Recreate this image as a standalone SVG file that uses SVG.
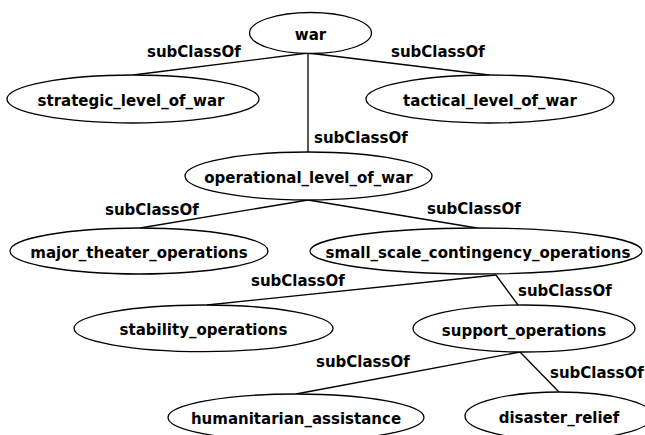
<svg xmlns="http://www.w3.org/2000/svg" width="645" height="435" viewBox="0 0 645 435">
<style>
text{font-family:"DejaVu Sans","Liberation Sans",sans-serif;font-weight:bold;font-size:15px;fill:#000}
.n text{text-anchor:middle}
.n ellipse{fill:#fff;stroke:#000;stroke-width:1.3}
#edges line{stroke:#000;stroke-width:1.3}
</style>
<rect width="645" height="435" fill="#fff"/>
<g id="edges">
<line x1="308" y1="53" x2="133" y2="75"/>
<line x1="308" y1="53" x2="489" y2="75"/>
<line x1="308" y1="53" x2="308" y2="152"/>
<line x1="308" y1="200" x2="140" y2="228"/>
<line x1="308" y1="200" x2="477" y2="228"/>
<line x1="496" y1="275" x2="207" y2="305"/>
<line x1="496" y1="275" x2="518" y2="305"/>
<line x1="520" y1="352" x2="296" y2="394"/>
<line x1="520" y1="352" x2="559" y2="392"/>
<text x="147" y="56.5">subClassOf</text>
<text x="391" y="56.5">subClassOf</text>
<text x="314" y="143">subClassOf</text>
<text x="105" y="215">subClassOf</text>
<text x="427" y="214">subClassOf</text>
<text x="251" y="286">subClassOf</text>
<text x="518" y="296">subClassOf</text>
<text x="316" y="367">subClassOf</text>
<text x="550" y="378">subClassOf</text>
</g>
<g id="war" class="n"><ellipse cx="310.5" cy="33" rx="61" ry="20.5"/><text x="310.5" y="39.5">war</text></g>
<g id="strategic_level_of_war" class="n"><ellipse cx="133" cy="99" rx="126" ry="24"/><text x="131" y="106">strategic_level_of_war</text></g>
<g id="tactical_level_of_war" class="n"><ellipse cx="490" cy="99" rx="124" ry="24"/><text x="490" y="106">tactical_level_of_war</text></g>
<g id="operational_level_of_war" class="n"><ellipse cx="308.5" cy="176" rx="123.5" ry="24"/><text x="308.5" y="183">operational_level_of_war</text></g>
<g id="major_theater_operations" class="n"><ellipse cx="139" cy="251" rx="129" ry="23"/><text x="139" y="258">major_theater_operations</text></g>
<g id="small_scale_contingency_operations" class="n"><ellipse cx="476" cy="251" rx="166" ry="23"/><text x="478" y="258">small_scale_contingency_operations</text></g>
<g id="stability_operations" class="n"><ellipse cx="203.5" cy="328.3" rx="129.5" ry="23.3"/><text x="203.5" y="335">stability_operations</text></g>
<g id="support_operations" class="n"><ellipse cx="524" cy="328.5" rx="111" ry="23.5"/><text x="524" y="335.5">support_operations</text></g>
<g id="humanitarian_assistance" class="n"><ellipse cx="296" cy="417.5" rx="128" ry="23.5"/><text x="296" y="424">humanitarian_assistance</text></g>
<g id="disaster_relief" class="n"><ellipse cx="559" cy="416" rx="94" ry="24"/><text x="559" y="423">disaster_relief</text></g>
</svg>
